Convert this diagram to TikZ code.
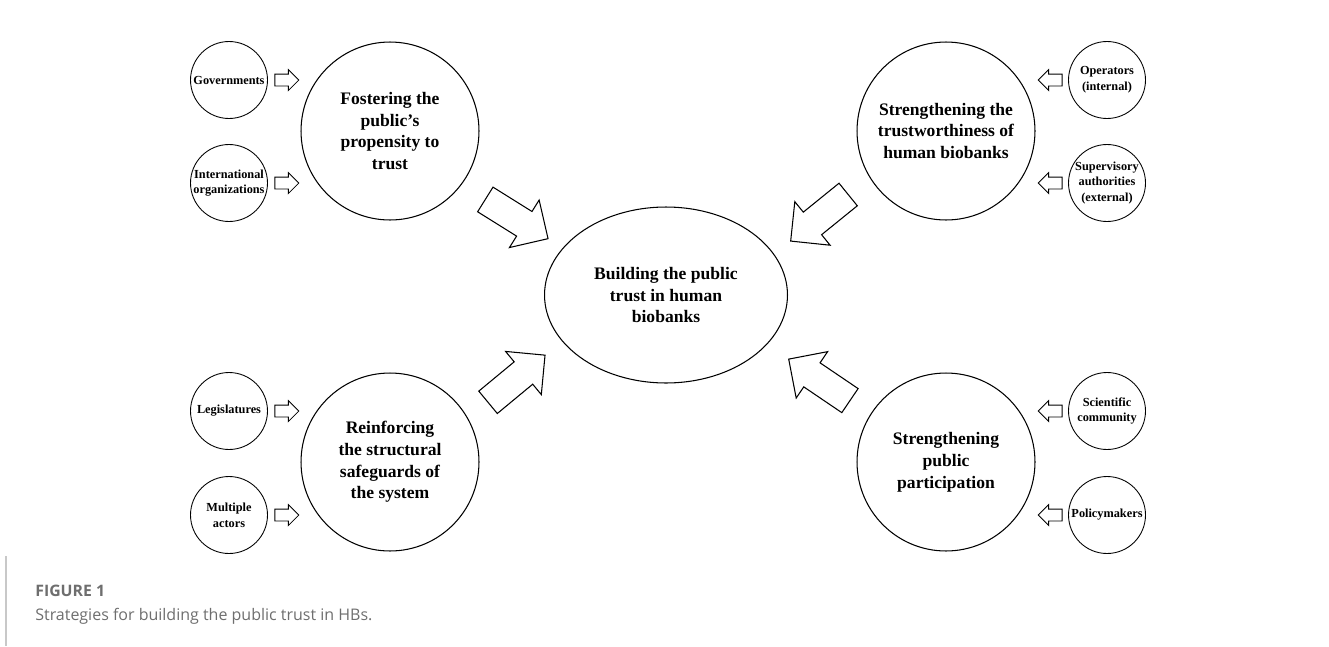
\documentclass[tikz,border=0pt]{standalone}
\usepackage{fontspec}
\setmainfont{Liberation Serif}
\newfontfamily\capfont{Open Sans}
\usetikzlibrary{shapes.geometric, shapes.arrows, positioning}
\definecolor{capgray}{HTML}{6E6E6E}
\definecolor{rulegray}{HTML}{C8C8C8}

\begin{document}
\begin{tikzpicture}[x=0.02cm, y=-0.02cm,
  strategy/.style={draw, circle, line width=0.6pt, minimum size=3.56cm, inner sep=0pt, align=center, font=\bfseries\fontsize{10}{12.4}\selectfont},
  actor/.style={draw, circle, line width=0.5pt, minimum size=1.54cm, inner sep=0pt, align=center, font=\bfseries\fontsize{7}{8.9}\selectfont},
  goal/.style={draw, ellipse, line width=0.6pt, minimum width=4.86cm, minimum height=3.52cm, inner sep=0pt, align=center, font=\bfseries\fontsize{10}{12.4}\selectfont},
  bigarrow/.style={draw, single arrow, line width=0.6pt, minimum height=1.48cm, inner xsep=0pt, inner ysep=0.28cm, single arrow head extend=0.27cm, sloped, allow upside down, pos=0.43},
  smallarrow/.style={draw, single arrow, line width=0.5pt, minimum height=0.48cm, inner xsep=0pt, inner ysep=0.11cm, single arrow head extend=0.09cm}]
  \useasboundingbox (0,0) rectangle (1329,646);
  \node[goal] (build) at (666,295) {Building the public\\trust in human\\biobanks};
  \node[strategy] (foster) at (390,131) {Fostering the\\public’s\\propensity to\\trust};
  \node[strategy] (worthy) at (946,131) {Strengthening the\\trustworthiness of\\human biobanks};
  \node[strategy] (reinforce) at (390,462) {Reinforcing\\the structural\\safeguards of\\the system};
  \node[strategy] (partic) at (946,462) {Strengthening\\public\\participation};
  \node[actor] (gov) at (229,80) {Governments};
  \node[actor] (intl) at (229,183) {International\\organizations};
  \node[actor] (legis) at (229,411) {Legislatures};
  \node[actor] (multi) at (229,515) {Multiple\\actors};
  \node[actor] (oper) at (1107,80) {Operators\\(internal)};
  \node[actor] (superv) at (1107,183) {Supervisory\\authorities\\(external)};
  \node[actor] (sci) at (1107,411) {Scientific\\community};
  \node[actor] (policy) at (1107,515) {Policymakers};
  \node[smallarrow, right=0.13cm of gov] (govarr) {};
  \node[smallarrow, right=0.13cm of intl] (intlarr) {};
  \node[smallarrow, right=0.13cm of legis] (legisarr) {};
  \node[smallarrow, right=0.13cm of multi] (multiarr) {};
  \node[smallarrow, shape border rotate=180, left=0.11cm of oper] (operarr) {};
  \node[smallarrow, shape border rotate=180, left=0.11cm of superv] (supervarr) {};
  \node[smallarrow, shape border rotate=180, left=0.11cm of sci] (sciarr) {};
  \node[smallarrow, shape border rotate=180, left=0.11cm of policy] (policyarr) {};
  \coordinate (tl-tail) at (483,198);
  \coordinate (tl-tip) at (547,238);
  \coordinate (tr-tail) at (850,193);
  \coordinate (tr-tip) at (792,240);
  \coordinate (bl-tail) at (486,404);
  \coordinate (bl-tip) at (544,356);
  \coordinate (br-tail) at (852,402);
  \coordinate (br-tip) at (790,360);
  \path (tl-tail) -- node[bigarrow] (tlarr) {} (tl-tip);
  \path (tr-tail) -- node[bigarrow] (trarr) {} (tr-tip);
  \path (bl-tail) -- node[bigarrow] (blarr) {} (bl-tip);
  \path (br-tail) -- node[bigarrow] (brarr) {} (br-tip);
  \draw[rulegray, line width=0.6pt] (6,556) -- (6,646);
  \node[anchor=base west, inner sep=0pt, text=capgray, font=\capfont\bfseries\fontsize{9}{10}\selectfont] (figno) at (35,596) {FIGURE 1};
  \node[anchor=base west, inner sep=0pt, text=capgray, font=\capfont\fontsize{9.1}{10}\selectfont] (figcap) at (35,620) {Strategies for building the public trust in HBs.};
\end{tikzpicture}
\end{document}
